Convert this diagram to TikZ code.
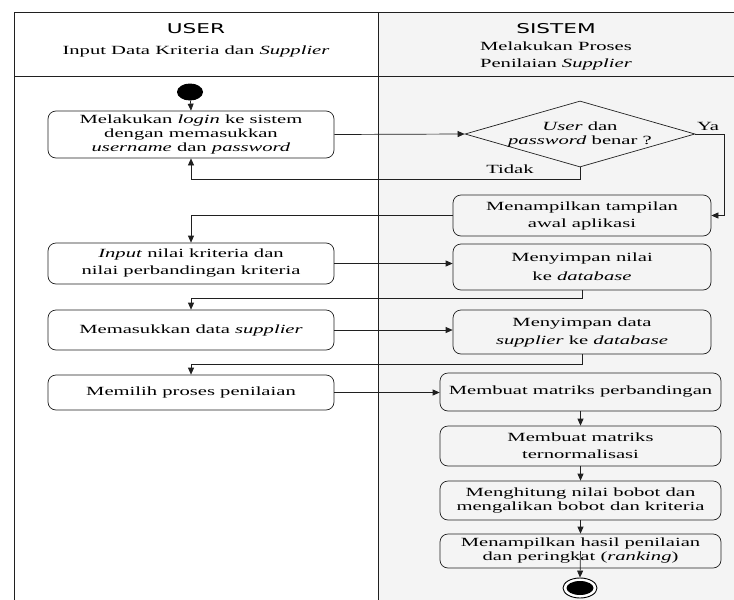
\documentclass[tikz,border=0pt]{standalone}
\usepackage{fontspec}
\setmainfont{Liberation Serif}[FakeStretch=1.65, UprightFont={Liberation Serif}, ItalicFont={Liberation Serif Italic}, BoldFont={Liberation Serif Bold}]
\newfontfamily\hdrfont{DejaVu Sans}[FakeStretch=1.6]
\usetikzlibrary{arrows.meta,shapes.geometric}
\definecolor{lanegray}{HTML}{F4F4F4}
\definecolor{linecol}{HTML}{202020}
\tikzset{
  act/.style={draw=linecol, line width=0.7pt, rounded corners=8pt, inner sep=0pt, align=center,
    font=\fontsize{12.5}{14}\selectfont},
  flow/.style={draw=linecol, line width=0.7pt, -{Triangle[length=7pt,width=6pt]}},
  lbl/.style={font=\fontsize{12.5}{14}\selectfont, inner sep=0pt},
  hdr/.style={font=\hdrfont\fontsize{13.5}{16}\selectfont, inner sep=0pt},
  sub/.style={font=\fontsize{12.5}{17}\selectfont, align=center, inner sep=0pt}
}
\begin{document}
\begin{tikzpicture}[x=1pt,y=-1pt]
\useasboundingbox (0,0) rectangle (734,600);
% lanes
\fill[lanegray] (378,12) rectangle (734,600);
\draw[linecol, line width=0.8pt] (14,600) -- (14,12) -- (734,12);
\draw[linecol, line width=0.8pt] (14,76) -- (734,76);
\draw[linecol, line width=0.8pt] (378,12) -- (378,600);
% headers
\node[hdr] (huser) at (196,29) {USER};
\node[sub] (husub) at (196,51) {Input Data Kriteria dan \textit{Supplier}};
\node[hdr] (hsis) at (556,29) {SISTEM};
\node[sub] (hssub) at (556,55.5) {Melakukan Proses\\Penilaian \textit{Supplier}};
% start
\node[ellipse, fill=black, minimum width=26pt, minimum height=17pt, inner sep=0pt] (start) at (190,92) {};
% activities
\node[act, minimum width=286pt, minimum height=47pt] (login) at (191,134.5)
  {Melakukan \textit{login} ke sistem\\dengan memasukkan\\\textit{username} dan \textit{password}};
\node[diamond, draw=linecol, line width=0.7pt, minimum width=230pt, minimum height=66pt, inner sep=0pt] (dec) at (580,134) {};
\node[lbl, align=center] (dectext) at (580,134) {\textit{User} dan\\\textit{password} benar ?};
\node[act, minimum width=258pt, minimum height=41pt] (tampil) at (582,215.5)
  {Menampilkan tampilan\\[3pt]awal aplikasi};
\node[act, minimum width=286pt, minimum height=41pt] (input) at (191,263.5)
  {\textit{Input} nilai kriteria dan\\[3pt]nilai perbandingan kriteria};
\node[act, minimum width=258pt, minimum height=46pt] (nilai) at (582,267)
  {Menyimpan nilai\\[5pt]ke \textit{database}};
\node[act, minimum width=286pt, minimum height=40pt] (masuk) at (191,330)
  {Memasukkan data \textit{supplier}};
\node[act, minimum width=258pt, minimum height=44pt] (data) at (582,332)
  {Menyimpan data\\[4pt]\textit{supplier} ke \textit{database}};
\node[act, minimum width=286pt, minimum height=35pt] (pilih) at (191,392.5)
  {Memilih proses penilaian};
\node[act, minimum width=281pt, minimum height=38pt] (banding) at (580.5,392)
  {Membuat matriks perbandingan};
\node[act, minimum width=281pt, minimum height=40pt] (norm) at (580.5,446)
  {Membuat matriks\\[3pt]ternormalisasi};
\node[act, minimum width=281pt, minimum height=39pt] (hitung) at (580.5,500.5)
  {Menghitung nilai bobot dan\\mengalikan bobot dan kriteria};
\node[act, minimum width=281pt, minimum height=34pt] (hasil) at (580.5,551)
  {Menampilkan hasil penilaian\\dan peringkat (\textit{ranking})};
% end
\node[ellipse, draw=black, line width=0.9pt, fill=white, minimum width=34pt, minimum height=20pt, inner sep=0pt] (end) at (580,588) {};
\node[ellipse, fill=black, minimum width=27pt, minimum height=14pt, inner sep=0pt] (endin) at (580,588) {};
% connectors
\draw[flow] (start) -- (login.north);
\draw[flow] (login.east) -- (dec.west);
\draw[flow] (dec.east) -- ++(29,0) |- (tampil.east);
\node[lbl] (ya) at (708,126) {Ya};
\draw[flow] (dec.south) -- ++(0,12) -| (login.south);
\node[lbl] (tidak) at (510,169) {Tidak};
\draw[flow] (tampil.west) -| (input.north);
\draw[flow] (input.east) -- (input.east -| nilai.west);
\draw[flow] (nilai.south) -- ++(0,8) -| (masuk.north);
\draw[flow] (masuk.east) -- (masuk.east -| data.west);
\draw[flow] (data.south) -- ++(0,10) -| (pilih.north);
\draw[flow] (pilih.east) -- (pilih.east -| banding.west);
\draw[flow] (banding.south) -- (norm.north);
\draw[flow] (norm.south) -- (hitung.north);
\draw[flow] (hitung.south) -- (hasil.north);
\draw[flow] (hasil.center) -- (end.north);
\end{tikzpicture}
\end{document}
